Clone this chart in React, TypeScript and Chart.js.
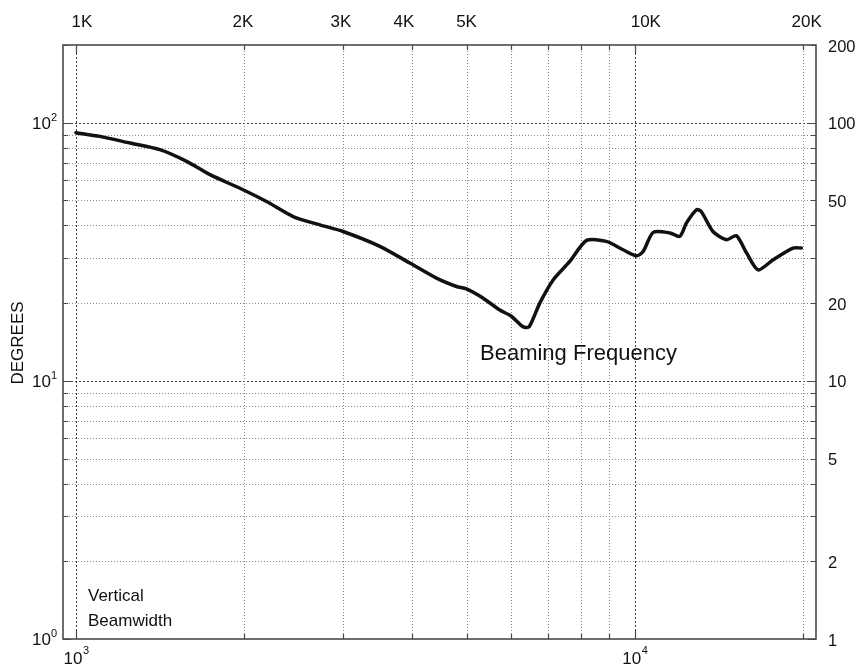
import { useEffect, useRef } from "react";
import { Chart, registerables } from "chart.js";

Chart.register(...registerables);

// Measured vertical beamwidth (-6 dB) versus frequency
const frequencyHz = [
  1000, 1104, 1249, 1413, 1578, 1737, 1991, 2193, 2447, 2733, 3006, 3498, 3958,
  4417, 4797, 4997, 5355, 5735, 6013, 6310, 6471, 6761, 7143, 7650, 8198, 8894,
  9530, 10070, 10350, 10790, 11560, 12040, 12374, 12890, 13150, 13800, 14590,
  15200, 15850, 16620, 17660, 19190, 19860,
];
const beamwidthDeg = [
  91.5, 88.5, 83.4, 78.6, 70.8, 62.9, 55.0, 49.5, 43.3, 40.2, 37.9, 33.2, 28.6,
  25.0, 23.2, 22.7, 20.9, 18.8, 17.8, 16.2, 16.2, 20.0, 24.6, 29.0, 35.0, 34.7,
  32.2, 30.5, 31.7, 37.6, 37.4, 36.3, 40.9, 46.0, 45.3, 37.9, 35.2, 36.5, 31.3,
  26.9, 29.4, 32.7, 32.7,
];

// Axis ranges
const xMin = 948;
const xMax = 21100;
const yMin = 1;
const yMax = 200;

// Grid / tick values
const xGridValues = [1000, 2000, 3000, 4000, 5000, 6000, 7000, 8000, 9000, 10000, 20000];
const yGridValues = [
  1, 2, 3, 4, 5, 6, 7, 8, 9, 10, 20, 30, 40, 50, 60, 70, 80, 90, 100, 200,
];
const xMajor = [1000, 10000];
const yMajor = [1, 10, 100];

// Frequency names along the top
const topLabels = ["1K", "2K", "3K", "4K", "5K", "10K", "20K"];
const topLabelAt = [1025, 1990, 2980, 3862, 5000, 10465, 20310];

// Right-hand degree labels
const rightLabels = [200, 100, 50, 20, 10, 5, 2, 1];

// Power-of-ten labels
const leftExponents = [0, 1, 2];
const bottomExponents = [3, 4];

const FONT = '"Liberation Sans", Arial, Helvetica, sans-serif';

const framePlugin = {
  id: "frame",
  beforeDatasetsDraw(chart: any) {
    const { ctx, chartArea: a, scales } = chart;
    const xs = scales.x;
    const ys = scales.y;
    ctx.save();
    ctx.lineWidth = 1;
    for (const v of yGridValues) {
      if (v === yMin || v === yMax) continue;
      const y = Math.round(ys.getPixelForValue(v)) + 0.5;
      const major = yMajor.includes(v);
      ctx.strokeStyle = major ? "#3a3a3a" : "#8a8a8a";
      ctx.setLineDash(major ? [2, 2] : [1, 2]);
      ctx.beginPath();
      ctx.moveTo(a.left, y);
      ctx.lineTo(a.right, y);
      ctx.stroke();
    }
    for (const v of xGridValues) {
      const x = Math.round(xs.getPixelForValue(v)) + 0.5;
      const major = xMajor.includes(v);
      ctx.strokeStyle = major ? "#3a3a3a" : "#8a8a8a";
      ctx.setLineDash(major ? [2, 2] : [1, 2]);
      ctx.beginPath();
      ctx.moveTo(x, a.top);
      ctx.lineTo(x, a.bottom);
      ctx.stroke();
    }
    ctx.restore();
  },
  afterDraw(chart: any) {
    const { ctx, chartArea: a, scales } = chart;
    const xs = scales.x;
    const ys = scales.y;
    ctx.save();
    ctx.setLineDash([]);

    // inward tick marks
    ctx.strokeStyle = "#4a4a4a";
    ctx.lineWidth = 1.2;
    for (const v of yGridValues) {
      const y = Math.round(ys.getPixelForValue(v)) + 0.5;
      const len = yMajor.includes(v) ? 8 : 5;
      ctx.beginPath();
      ctx.moveTo(a.left, y);
      ctx.lineTo(a.left + len, y);
      ctx.moveTo(a.right, y);
      ctx.lineTo(a.right - len, y);
      ctx.stroke();
    }
    for (const v of xGridValues) {
      const x = Math.round(xs.getPixelForValue(v)) + 0.5;
      const len = xMajor.includes(v) ? 8 : 5;
      ctx.beginPath();
      ctx.moveTo(x, a.bottom);
      ctx.lineTo(x, a.bottom - len);
      ctx.moveTo(x, a.top);
      ctx.lineTo(x, a.top + len);
      ctx.stroke();
    }

    // plot box
    ctx.strokeStyle = "#4a4a4a";
    ctx.lineWidth = 1.6;
    ctx.strokeRect(a.left, a.top, a.right - a.left, a.bottom - a.top);

    ctx.fillStyle = "#111";

    // top frequency names
    ctx.font = `17px ${FONT}`;
    ctx.textAlign = "center";
    ctx.textBaseline = "alphabetic";
    topLabels.forEach((t, i) => {
      ctx.fillText(t, xs.getPixelForValue(topLabelAt[i]), 27);
    });

    // right degree labels
    ctx.font = `16.5px ${FONT}`;
    ctx.textAlign = "left";
    ctx.textBaseline = "middle";
    for (const v of rightLabels) {
      ctx.fillText(String(v), a.right + 12, ys.getPixelForValue(v) + 2);
    }

    // left 10^n labels
    for (const e of leftExponents) {
      const y = ys.getPixelForValue(Math.pow(10, e));
      ctx.font = `17px ${FONT}`;
      ctx.textAlign = "right";
      ctx.textBaseline = "alphabetic";
      ctx.fillText("10", 51, y + 6);
      ctx.font = `11px ${FONT}`;
      ctx.textAlign = "left";
      ctx.fillText(String(e), 51, y - 2);
    }

    // bottom 10^n labels
    for (const e of bottomExponents) {
      const x = xs.getPixelForValue(Math.pow(10, e));
      ctx.font = `17px ${FONT}`;
      ctx.textAlign = "center";
      ctx.textBaseline = "alphabetic";
      const w = ctx.measureText("10").width;
      ctx.fillText("10", x - 3, 664);
      ctx.font = `11px ${FONT}`;
      ctx.textAlign = "left";
      ctx.fillText(String(e), x - 3 + w / 2 + 0.5, 654);
    }

    // y-axis title
    ctx.save();
    ctx.translate(18, 343);
    ctx.rotate(-Math.PI / 2);
    ctx.font = `17px ${FONT}`;
    ctx.textAlign = "center";
    ctx.textBaseline = "middle";
    ctx.fillText("DEGREES", 0, 0);
    ctx.restore();

    // annotations
    ctx.textAlign = "left";
    ctx.textBaseline = "alphabetic";
    ctx.font = `22px ${FONT}`;
    ctx.fillText("Beaming Frequency", 480, 360);
    ctx.font = `17px ${FONT}`;
    ctx.fillText("Vertical", 88, 601);
    ctx.fillText("Beamwidth", 88, 626);

    ctx.restore();
  },
};

export default function App() {
  const canvasRef = useRef<HTMLCanvasElement | null>(null);

  useEffect(() => {
    const canvas = canvasRef.current;
    if (!canvas) return;
    const points = frequencyHz.map((f, i) => ({ x: f, y: beamwidthDeg[i] }));
    const chart = new Chart(canvas, {
      type: "line",
      data: {
        datasets: [
          {
            label: "Vertical Beamwidth",
            data: points,
            borderColor: "#111111",
            borderWidth: 3.5,
            pointRadius: 0,
            tension: 0.25,
            fill: false,
            borderJoinStyle: "round",
            borderCapStyle: "round",
          } as any,
        ],
      },
      options: {
        responsive: false,
        maintainAspectRatio: false,
        animation: false,
        devicePixelRatio: 1,
        layout: { padding: { left: 63, right: 40, top: 45, bottom: 30 } },
        plugins: {
          legend: { display: false },
          tooltip: { enabled: false },
        },
        scales: {
          x: { type: "logarithmic", min: xMin, max: xMax, display: false },
          y: { type: "logarithmic", min: yMin, max: yMax, display: false },
        },
      },
      plugins: [framePlugin],
    });
    return () => chart.destroy();
  }, []);

  return (
    <div
      style={{
        position: "fixed",
        left: 0,
        top: 0,
        width: 856,
        height: 669,
        background: "#fff",
      }}
    >
      <canvas ref={canvasRef} width={856} height={669} style={{ width: 856, height: 669 }} />
    </div>
  );
}
